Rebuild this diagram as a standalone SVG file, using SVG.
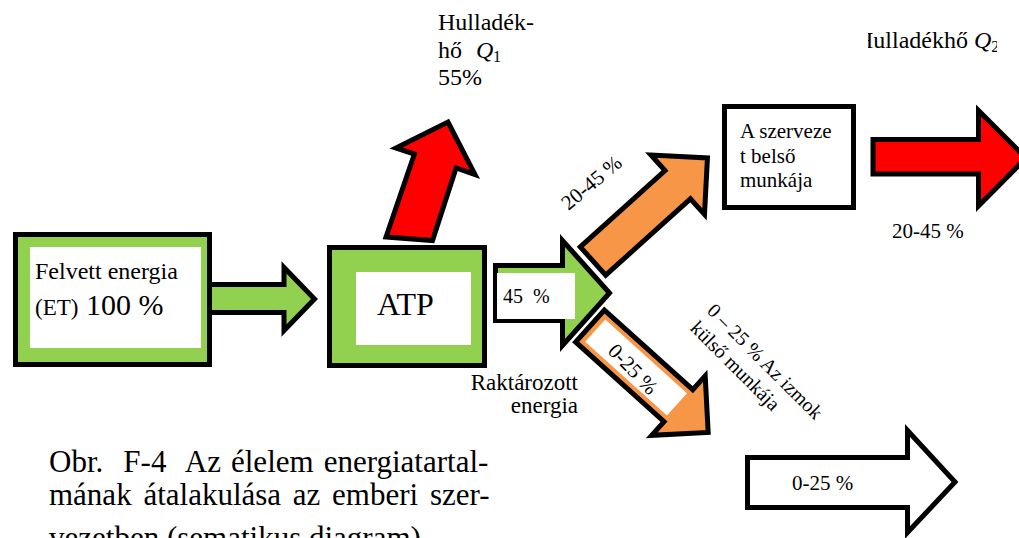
<svg xmlns="http://www.w3.org/2000/svg" width="1019" height="538" viewBox="0 0 1019 538">
<defs>
<style>
.t{font-family:"Liberation Serif","Times New Roman",serif;fill:#000;white-space:pre;}
.blk{stroke:#000;stroke-width:5;stroke-linejoin:miter;stroke-miterlimit:10;}
.green{fill:#92D050;}
.red{fill:#FF0000;}
.orange{fill:#F79646;}
.white{fill:#FFFFFF;}
</style>
<clipPath id="clipQ2"><rect x="868" y="0" width="129" height="80"/></clipPath>
</defs>
<rect width="1019" height="538" fill="#FFFFFF"/>

<g id="connectors">
  <!-- Felvett energia -> ATP -->
  <polygon class="blk green" points="205,284.5 284,284.5 284,267.5 314.5,299 284,330.5 284,312.5 205,312.5"/>
  <!-- ATP -> Hulladékhő Q1 -->
  <polygon class="blk red" points="386,237 414.4,154 396,148 448,122 475,174.5 456.1,168 432.5,240.5"/>
  <!-- ATP -> 45 % -->
  <polygon class="blk green" points="495.5,265.5 562.5,265.5 562.5,240.5 609.5,293 562.5,345.5 562.5,320.5 495.5,320.5"/>
  <rect class="white" x="497" y="273" width="78" height="46"/>
  <!-- 20-45 % up-right -->
  <polygon class="blk orange" transform="translate(593,261) rotate(-42)" points="0,-19 114,-19 114,-40 154,0 114,40 114,19 0,19"/>
  <!-- 0-25 % down-right -->
  <g transform="translate(590,326) rotate(42)">
    <polygon class="blk orange" points="0,-21.5 119,-21.5 119,-40 159,0 119,40 119,21.5 0,21.5"/>
    <rect class="white" x="7" y="-15" width="110" height="30"/>
  </g>
  <!-- szervezet -> Hulladékhő Q2 -->
  <polygon class="blk red" points="873,139.5 978.5,139.5 978.5,110.5 1026,158 978.5,206 978.5,174 873,174"/>
  <!-- 0-25 % bottom -->
  <polygon class="blk white" points="747.5,457.5 907.5,457.5 907.5,430.5 955,482 907.5,532.5 907.5,507.5 747.5,507.5"/>
</g>

<g id="node-felvett">
  <rect class="blk green" x="15.5" y="234.5" width="194" height="130"/>
  <rect class="white" x="30" y="247" width="171" height="101"/>
  <text class="t" x="35" y="279" font-size="24">Felvett energia</text>
  <text class="t" x="35" y="315"><tspan font-size="23">(ET)</tspan><tspan font-size="30"> 100 %</tspan></text>
</g>

<g id="node-atp">
  <rect class="blk green" x="329.5" y="247.5" width="155" height="118"/>
  <rect class="white" x="356" y="272" width="115" height="73"/>
  <text class="t" x="377" y="315" font-size="32">ATP</text>
</g>

<g id="node-szervezet">
  <rect class="blk white" x="724.5" y="106.5" width="129" height="101"/>
  <text class="t" font-size="21"><tspan x="740" y="138">A szerveze</tspan><tspan x="740" y="163">t belső</tspan><tspan x="740" y="187">munkája</tspan></text>
</g>

<g id="labels">
  <text class="t" font-size="24"><tspan x="438" y="30">Hulladék-</tspan><tspan x="438" y="58">hő  </tspan><tspan font-style="italic" x="476" y="58">Q</tspan><tspan font-size="16" x="493" y="62">1</tspan><tspan x="438" y="85">55%</tspan></text>
  <g clip-path="url(#clipQ2)">
    <text class="t" font-size="24" x="856" y="48">Hulladékhő <tspan font-style="italic">Q</tspan><tspan font-size="16" dy="4">2</tspan></text>
  </g>
  <text class="t" font-size="20" x="503" y="303">45  %</text>
  <text class="t" font-size="21" text-anchor="middle" transform="translate(596,188) rotate(-40)">20-45 %</text>
  <text class="t" font-size="21" x="892" y="238">20-45 %</text>
  <text class="t" font-size="21" text-anchor="middle" transform="translate(628,374) rotate(46)">0-25 %</text>
  <text class="t" font-size="20" text-anchor="middle" transform="translate(760.3,366.2) rotate(45)">0 – 25 % Az izmok</text>
  <text class="t" font-size="20" text-anchor="middle" transform="translate(730.6,370.5) rotate(45)">külső munkája</text>
  <text class="t" font-size="23" text-anchor="end"><tspan x="578" y="390">Raktározott</tspan><tspan x="578" y="413">energia</tspan></text>
  <text class="t" font-size="21" x="792" y="490">0-25 %</text>
  <text class="t" font-size="31"><tspan x="49" y="472" word-spacing="2.3">Obr.  F-4  Az élelem energiatartal-</tspan><tspan x="49" y="505" word-spacing="4">mának átalakulása az emberi szer-</tspan><tspan x="49" y="548">vezetben (sematikus diagram).</tspan></text>
</g>
</svg>
